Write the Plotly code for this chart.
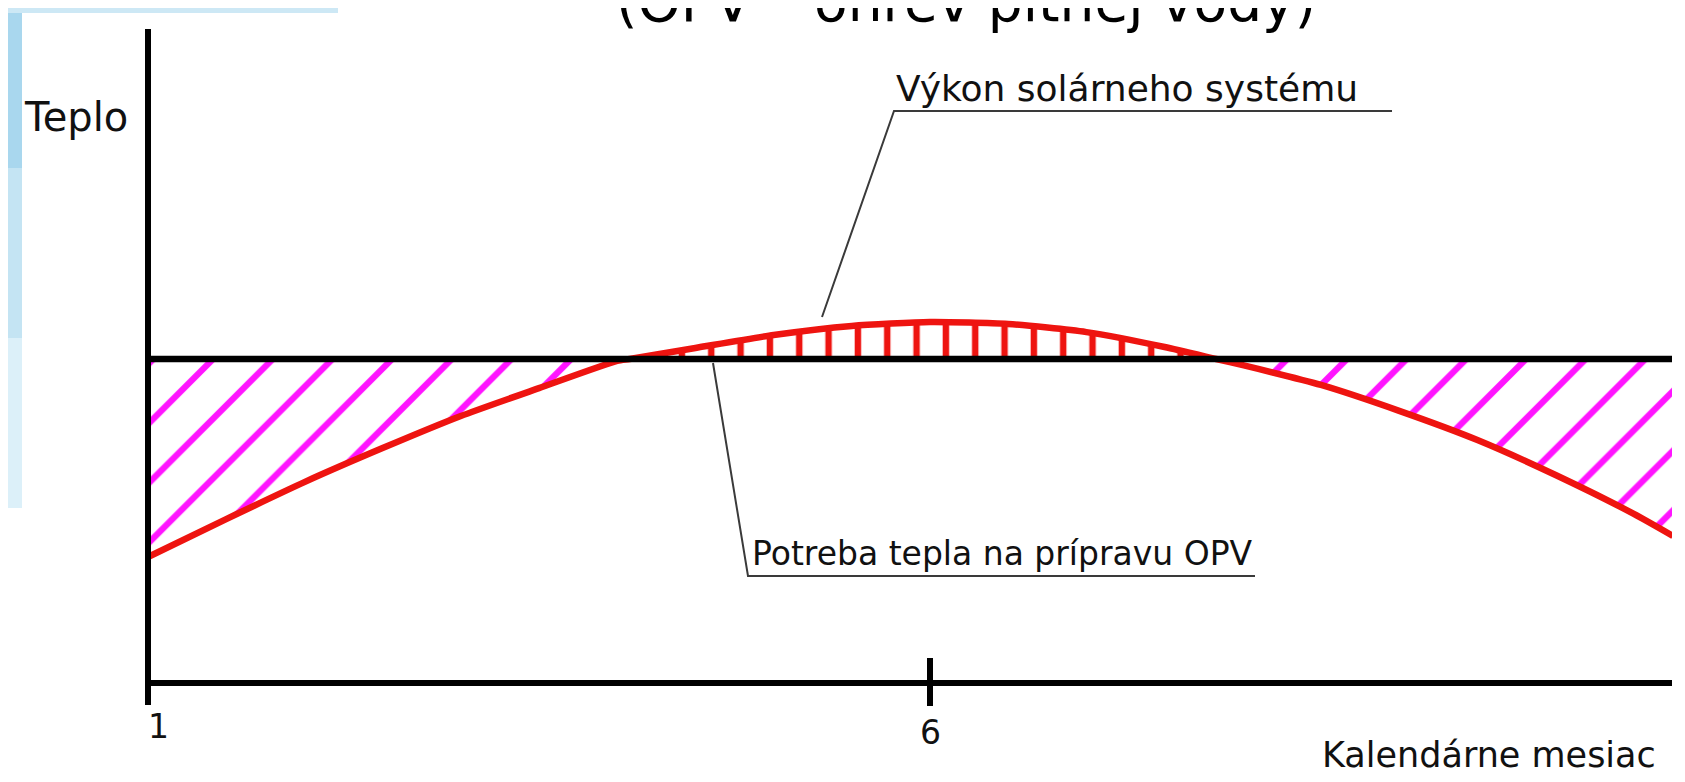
import plotly.graph_objects as go

# ---------------- data ----------------
# x: calendar month, y: heat in relative units (heat demand for hot water = 100)
months = [1.0, 1.5, 2.0, 2.5, 3.0, 3.5, 4.0, 4.08, 4.5, 5.0, 5.5, 6.0,
          6.5, 7.0, 7.5, 7.83, 8.0, 8.5, 9.0, 9.5, 10.0, 10.5, 10.75]
solar_output = [38.9, 50.6, 62.0, 72.5, 82.4, 91.0, 99.4, 100.0, 103.4, 107.4, 110.2, 111.4,
                110.8, 108.3, 103.7, 100.0, 98.1, 92.0, 84.0, 75.0, 64.2, 52.2, 45.4]
heat_demand = [100.0, 100.0, 100.0, 100.0, 100.0, 100.0, 100.0, 100.0, 100.0, 100.0, 100.0, 100.0,
               100.0, 100.0, 100.0, 100.0, 100.0, 100.0, 100.0, 100.0, 100.0, 100.0, 100.0]
month_ticks = [1, 6]
month_tick_labels = ["1", "6"]

title_text = "(OPV – ohrev pitnej vody)"
y_label = "Teplo"
x_label = "Kalendárne mesiac"
solar_label = "Výkon solárneho systému"
demand_label = "Potreba tepla na prípravu OPV"

# ---------------- layout geometry ----------------
W, H = 1685, 782
L, R, T, B = 14, 21, 5, 0
PW, PH = W - L - R, H - T - B
X0_PX, PX_PER_MONTH = 140.0, 156.4      # month 1 position, scale
Y0_PX, PX_PER_UNIT = 675.0, 3.24        # heat 0 position, scale

x_range = [1 - (X0_PX - L) / PX_PER_MONTH, 1 + (W - R - X0_PX) / PX_PER_MONTH]
y_range = [-(H - B - Y0_PX) / PX_PER_UNIT, (Y0_PX - T) / PX_PER_UNIT]


def dx(px):
    return 1 + (px - X0_PX) / PX_PER_MONTH


def dy(py):
    return (Y0_PX - py) / PX_PER_UNIT


def paper(px, py):
    return (px - L) / PW, 1 - (py - T) / PH


FONT = "DejaVu Sans"
RED = "#ee1410"
MAGENTA = "#ff14ff"

fig = go.Figure()

# ---------------- hatched areas between demand and solar output ----------------
cross = [i for i, (s, d) in enumerate(zip(solar_output, heat_demand)) if s == d]
bounds = [0] + cross + [len(months) - 1]
for a, b in zip(bounds[:-1], bounds[1:]):
    xs = months[a:b + 1]
    ys = solar_output[a:b + 1]
    ds = heat_demand[a:b + 1]
    above = sum(ys) / len(ys) > sum(ds) / len(ds)
    fig.add_trace(go.Scatter(x=xs, y=ds, mode="lines", line=dict(width=0),
                             hoverinfo="skip", showlegend=False))
    if above:
        patt = dict(shape="|", size=29.33, solidity=0.22, fgcolor=RED, fgopacity=1,
                    bgcolor="rgba(0,0,0,0)", fillmode="overlay")
    else:
        patt = dict(shape="/", size=42.2, solidity=0.15, fgcolor=MAGENTA, fgopacity=1,
                    bgcolor="rgba(0,0,0,0)", fillmode="overlay")
    fig.add_trace(go.Scatter(x=xs, y=ys, mode="lines", fill="tonexty",
                             fillcolor="rgba(0,0,0,0)", fillpattern=patt,
                             line=dict(width=0, shape="spline", smoothing=0.6),
                             hoverinfo="skip", showlegend=False))

# solar output curve
fig.add_trace(go.Scatter(x=months, y=solar_output, mode="lines",
                         line=dict(color=RED, width=6.5, shape="spline", smoothing=0.6),
                         name=solar_label, showlegend=False))
# heat demand line
fig.add_trace(go.Scatter(x=months, y=heat_demand, mode="lines",
                         line=dict(color="black", width=6.5),
                         name=demand_label, showlegend=False))

# ---------------- axes drawn as lines ----------------
shapes = []
shapes.append(dict(type="line", xref="x", yref="y", x0=month_ticks[0], x1=month_ticks[0],
                   y0=dy(697), y1=dy(21), line=dict(color="black", width=6)))
shapes.append(dict(type="line", xref="x", yref="y", x0=month_ticks[0], x1=x_range[1] + 1,
                   y0=0, y1=0, line=dict(color="black", width=6)))
shapes.append(dict(type="line", xref="x", yref="y", x0=month_ticks[1], x1=month_ticks[1],
                   y0=dy(650), y1=dy(698), line=dict(color="black", width=6)))


# leader lines for the labels
def path_px(points):
    return "M" + " L".join(f"{dx(px):.4f},{dy(py):.4f}" for px, py in points)


shapes.append(dict(type="path", xref="x", yref="y",
                   path=path_px([(814, 309), (886, 103), (1384, 103)]),
                   line=dict(color="#3a3a3a", width=2)))
shapes.append(dict(type="path", xref="x", yref="y",
                   path=path_px([(705, 355), (740, 568), (1247, 568)]),
                   line=dict(color="#3a3a3a", width=2)))


# slide background pieces outside the picture
def rect_px(x0, y0, x1, y1, color):
    p0 = paper(x0, y0)
    p1 = paper(x1, y1)
    return dict(type="rect", xref="paper", yref="paper", x0=p0[0], y0=p0[1],
                x1=p1[0], y1=p1[1], fillcolor=color, line=dict(width=0), layer="below")


shapes.append(rect_px(0, 0, 14, 500, "#dcf0f9"))
shapes.append(rect_px(0, 0, 14, 330, "#c4e4f3"))
shapes.append(rect_px(0, 0, 14, 160, "#a9d7ee"))
shapes.append(rect_px(0, 0, 330, 5, "#cde8f5"))

fig.update_layout(shapes=shapes)

# ---------------- texts ----------------
ann = []


def text_px(txt, px, py, size, xanchor="left", yanchor="middle", color="#111111"):
    xp, yp = paper(px, py)
    ann.append(dict(text=txt, x=xp, y=yp, xref="paper", yref="paper",
                    xanchor=xanchor, yanchor=yanchor, showarrow=False,
                    font=dict(family=FONT, size=size, color=color)))


text_px(y_label, 14, 109, 40)
text_px(solar_label, 886, 81, 36)
text_px(demand_label, 742, 545, 33)
text_px(x_label, 1312, 769, 35, yanchor="bottom")
text_px(title_text, 958, -6, 55, xanchor="center", color="black")

for m, lab, py, shift in zip(month_ticks, month_tick_labels, [718, 724], [10, 0]):
    ann.append(dict(text=lab, x=m, y=dy(py), xref="x", yref="y", xshift=shift,
                    showarrow=False, xanchor="center", yanchor="middle",
                    font=dict(family=FONT, size=33, color="#111111")))

fig.update_layout(
    annotations=ann,
    width=W, height=H,
    margin=dict(l=L, r=R, t=T, b=B, pad=0),
    paper_bgcolor="white", plot_bgcolor="white",
    xaxis=dict(range=x_range, visible=False, fixedrange=True),
    yaxis=dict(range=y_range, visible=False, fixedrange=True),
    showlegend=False,
)

fig.write_html("out.html")
